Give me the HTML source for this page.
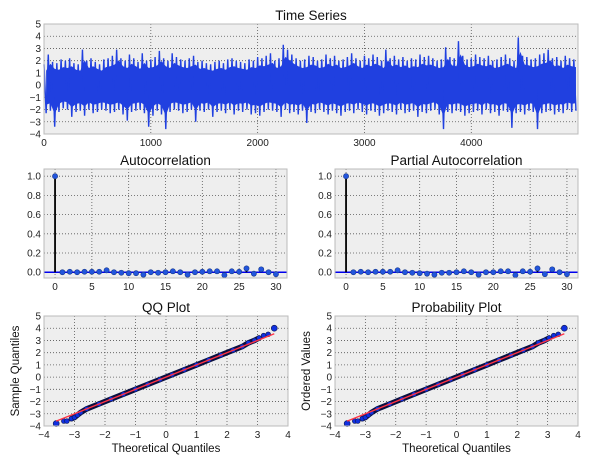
<!DOCTYPE html>
<html><head><meta charset="utf-8">
<style>
body{margin:0;background:#fff;}
svg{display:block;font-family:"Liberation Sans","DejaVu Sans",sans-serif;}
</style></head>
<body>
<svg id="fig" width="600" height="466" viewBox="0 0 600 466"></svg>
<script>
// ---------- data ----------
const tsBucketStart = [0,40,80,120,160,200,240,280,320,360,400,440,480,520,560,600,640,680,720,760,800,840,880,920,960,1000,1040,1080,1120,1160,1200,1240,1280,1320,1360,1400,1440,1480,1520,1560,1600,1640,1680,1720,1760,1800,1840,1880,1920,1960,2000,2040,2080,2120,2160,2200,2240,2280,2320,2360,2400,2440,2480,2520,2560,2600,2640,2680,2720,2760,2800,2840,2880,2920,2960,3000,3040,3080,3120,3160,3200,3240,3280,3320,3360,3400,3440,3480,3520,3560,3600,3640,3680,3720,3760,3800,3840,3880,3920,3960,4000,4040,4080,4120,4160,4200,4240,4280,4320,4360,4400,4440,4480,4520,4560,4600,4640,4680,4720,4760,4800,4840,4880,4920,4960];
const tsHigh = [1.7,2.5,1.9,1.8,2.1,2.0,2.2,1.8,1.7,2.9,2.0,2.2,1.9,1.7,2.1,2.2,2.4,2.9,2.2,2.0,2.5,2.2,1.9,2.6,2.0,2.1,2.3,2.8,2.2,2.0,2.6,2.3,2.1,2.0,2.2,2.4,1.9,2.0,1.8,1.7,1.9,2.0,1.8,2.1,2.2,2.0,1.9,1.8,2.1,2.0,2.3,2.2,2.4,2.6,2.0,2.2,3.3,2.9,2.5,2.2,2.0,2.1,2.4,2.3,2.0,2.1,2.5,2.2,2.4,2.0,2.1,2.3,2.6,2.2,2.0,2.4,2.2,2.5,2.3,2.0,2.9,2.2,2.4,2.1,2.3,2.0,2.2,2.1,2.5,2.3,2.4,2.2,2.0,2.1,3.1,2.3,2.2,3.6,2.4,2.1,2.2,2.5,2.3,2.2,2.4,2.0,2.1,2.3,2.5,2.2,2.0,3.9,2.4,2.3,2.1,2.2,2.5,2.6,2.9,2.2,2.3,2.0,2.4,2.2,2.1];
const tsLow = [-2.3,-2.1,-3.4,-2.2,-1.9,-2.0,-2.6,-2.2,-2.1,-2.5,-2.0,-2.3,-2.2,-2.0,-2.1,-2.3,-2.2,-2.0,-2.4,-2.9,-2.2,-2.1,-2.0,-2.3,-3.4,-2.5,-2.1,-2.4,-3.6,-2.2,-2.0,-2.1,-2.3,-2.2,-2.0,-3.0,-2.1,-2.2,-2.0,-2.6,-2.2,-2.1,-2.3,-2.0,-2.4,-2.1,-2.2,-2.0,-2.4,-2.3,-2.5,-2.2,-2.0,-2.1,-2.2,-2.6,-2.0,-2.3,-2.2,-2.4,-2.1,-3.1,-2.2,-2.3,-2.0,-2.2,-2.4,-2.1,-2.3,-2.5,-2.2,-2.1,-2.3,-2.0,-2.2,-2.4,-2.1,-2.2,-2.5,-2.3,-2.1,-2.2,-2.4,-2.0,-2.3,-2.2,-2.1,-2.6,-2.2,-2.3,-2.1,-2.0,-2.4,-3.6,-2.2,-2.3,-2.1,-2.2,-2.5,-2.3,-2.2,-2.1,-2.4,-2.0,-2.3,-2.2,-2.5,-2.1,-2.2,-3.5,-2.3,-2.2,-2.4,-2.1,-2.2,-3.6,-2.3,-2.2,-2.1,-2.4,-2.2,-2.3,-2.0,-2.2,-2.1];
const acfLags = [0,1,2,3,4,5,6,7,8,9,10,11,12,13,14,15,16,17,18,19,20,21,22,23,24,25,26,27,28,29,30];
const acfValues = [1,0,0.005,0,0.005,0.005,0.005,0.02,0,-0.005,-0.01,-0.01,-0.025,0,-0.005,0,0.01,0,-0.025,0,0.005,0.01,0.01,-0.03,0.01,0.005,0.04,-0.015,0.03,0,-0.02];
const pacfValues = [1,0,0.005,0,0.005,0.005,0.005,0.02,0,-0.005,-0.01,-0.015,-0.025,-0.005,-0.005,0,0.01,0,-0.025,0,0,0.01,0.01,-0.03,0.01,0.005,0.04,-0.02,0.03,0,-0.02];
const qqTheoretical = [-3.6,-3.35,-3.25,-3.1,-3.0,-2.9,-2.8,-2.6,-2.2,-1.8,-1.4,-1.0,-0.6,-0.2,0.2,0.6,1.0,1.4,1.8,2.2,2.5,2.7,2.9,3.05,3.2,3.35,3.55];
const qqSample = [-3.8,-3.6,-3.6,-3.4,-3.3,-3.1,-2.9,-2.6,-2.2,-1.8,-1.4,-1.0,-0.6,-0.2,0.2,0.6,1.0,1.4,1.8,2.2,2.5,2.8,3.0,3.2,3.4,3.5,4.0];
const fitSlope = 1.0, fitIntercept = 0.0;
const tsXTicks = [0,1000,2000,3000,4000];
const tsYTicks = [-4,-3,-2,-1,0,1,2,3,4,5];
const acfXTicks = [0,5,10,15,20,25,30];
const acfYTicks = [0.0,0.2,0.4,0.6,0.8,1.0];
const qqXTicks = [-4,-3,-2,-1,0,1,2,3,4];
const qqYTicks = [-4,-3,-2,-1,0,1,2,3,4,5];

const NS="http://www.w3.org/2000/svg";
const fig=document.getElementById('fig');
function el(tag,attrs,parent){const e=document.createElementNS(NS,tag);for(const k in attrs)e.setAttribute(k,attrs[k]);(parent||fig).appendChild(e);return e;}

function axes(name,box,xd,yd,xt,yt,title,xlab,ylab,fmtY){
  const g=el('g',{});
  
  
  const X=v=>box.x+(v-xd[0])/(xd[1]-xd[0])*box.w;
  const Y=v=>box.y+box.h-(v-yd[0])/(yd[1]-yd[0])*box.h;
  const bg=el('rect',{x:box.x,y:box.y,width:box.w,height:box.h,fill:'#eeeeee'},g);
  
  
  xt.forEach(t=>{const x=X(t);
    const gl=el('line',{x1:x,x2:x,y1:box.y,y2:box.y+box.h,stroke:'#555','stroke-dasharray':'1,2','stroke-width':0.8},g);
    
    
    const tl=el('text',{x:x,y:box.y+box.h+12,'font-size':10,'text-anchor':'middle',fill:'#222'},g);
    tl.textContent=(t<0?'\u2212'+Math.abs(t):t);
    
    
  });
  yt.forEach(t=>{const y=Y(t);
    const gl=el('line',{x1:box.x,x2:box.x+box.w,y1:y,y2:y,stroke:'#555','stroke-dasharray':'1,2','stroke-width':0.8},g);
    
    
    const tl=el('text',{x:box.x-3,y:y+3.5,'font-size':10,'text-anchor':'end',fill:'#222'},g);
    tl.textContent=fmtY?fmtY(t):(t<0?'\u2212'+Math.abs(t):t);
    
    
  });
  const tt=el('text',{x:box.x+box.w/2,y:box.y-4,'font-size':13.5,'text-anchor':'middle',fill:'#111'},g);
  tt.textContent=title;
  
  
  if(xlab){const t=el('text',{x:box.x+box.w/2,y:box.y+box.h+26,'font-size':11.5,'text-anchor':'middle',fill:'#111'},g);t.textContent=xlab;
    
    }
  if(ylab){const cx=box.x-25,cy=box.y+box.h/2;const t=el('text',{x:cx,y:cy,'font-size':11.5,'text-anchor':'middle',fill:'#111',transform:`rotate(-90 ${cx} ${cy})`},g);t.textContent=ylab;
    
    }
  return {g,X,Y,box};
}
function frame(a){const f=el('rect',{x:a.box.x,y:a.box.y,width:a.box.w,height:a.box.h,fill:'none',stroke:'#bbbbbb','stroke-width':1},a.g);
  
  }

// Time series
const ts=axes('time-series-panel',{x:44,y:24,w:534,h:110},[0,4999],[-4,5],tsXTicks,tsYTicks,'Time Series');
let pts=[];
tsBucketStart.forEach((s,i)=>{pts.push(ts.X(s)+','+ts.Y(tsHigh[i]));pts.push(ts.X(s+20)+','+ts.Y(tsLow[i]));});
const band=el('polygon',{points:tsBucketStart.map((s,i)=>ts.X(s+20)+','+ts.Y(tsHigh[i]*0.7)).concat(tsBucketStart.slice().reverse().map((s,j)=>{const i=tsBucketStart.length-1-j;return ts.X(s+20)+','+ts.Y(tsLow[i]*0.7);})).join(' '),fill:'#2040e0'},ts.g);


const tsl=el('polyline',{points:pts.join(' '),fill:'none',stroke:'#2040e0','stroke-width':1.4},ts.g);


frame(ts);

function stemPlot(name,box,vals,title){
  const a=axes(name,box,[-1.5,31.5],[-0.06,1.075],acfXTicks,acfYTicks,title,null,null,t=>t.toFixed(1));
  const z=el('line',{x1:box.x,x2:box.x+box.w,y1:a.Y(0),y2:a.Y(0),stroke:'#0000ee','stroke-width':1.5},a.g);
  
  
  acfLags.forEach((l,i)=>{
    const s=el('line',{x1:a.X(l),x2:a.X(l),y1:a.Y(0),y2:a.Y(vals[i]),stroke:'#000','stroke-width':1.8},a.g);
    
    
    const c=el('circle',{cx:a.X(l),cy:a.Y(vals[i]),r:2.6,fill:'#2255dd',stroke:'#1a3a8a','stroke-width':0.6},a.g);
    
    
  });
  frame(a);
}
stemPlot('acf-panel',{x:44,y:169,w:243,h:109},acfValues,'Autocorrelation');
stemPlot('pacf-panel',{x:335,y:169,w:243,h:109},pacfValues,'Partial Autocorrelation');

function qqPlot(name,box,title,ylab){
  const a=axes(name,box,[-4,4],[-4,5],qqXTicks,qqYTicks,title,'Theoretical Quantiles',ylab);
  const line=el('polyline',{points:qqTheoretical.slice(3,-3).map((t,i)=>a.X(t)+','+a.Y(qqSample[i+3])).join(' '),fill:'none',stroke:'#0a0f40','stroke-width':5.5,'stroke-linecap':'round'},a.g);
  
  
  qqTheoretical.forEach((t,i)=>{
    const c=el('circle',{cx:a.X(t),cy:a.Y(qqSample[i]),r:(i===0||i===qqTheoretical.length-1)?3:2.4,fill:'#1030e0',stroke:'#101850','stroke-width':0.6},a.g);
    
    
  });
  const x0=qqTheoretical[0],x1=qqTheoretical[qqTheoretical.length-1];
  const f=el('line',{x1:a.X(x0),y1:a.Y(fitIntercept+fitSlope*x0),x2:a.X(x1),y2:a.Y(fitIntercept+fitSlope*x1),stroke:'#ff3344','stroke-width':1.4},a.g);
  
  
  frame(a);
}
qqPlot('qq-panel',{x:44,y:316,w:244,h:110},'QQ Plot','Sample Quantiles');
qqPlot('probability-panel',{x:335,y:316,w:243,h:110},'Probability Plot','Ordered Values');
</script>
</body></html>
